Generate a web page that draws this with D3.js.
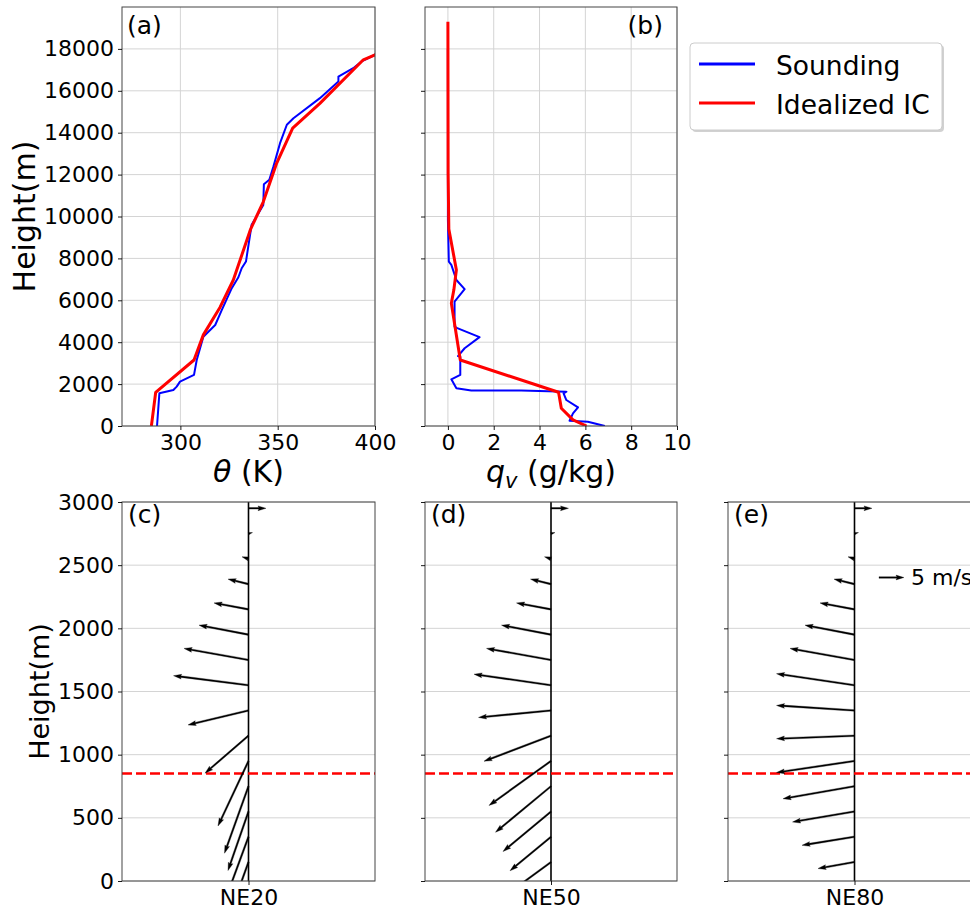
<!DOCTYPE html>
<html>
<head>
<meta charset="utf-8">
<script src="https://cdn.jsdelivr.net/npm/d3@7"></script>
<style>
  body { margin: 0; background: #fff; }
  text { font-family: "DejaVu Sans", sans-serif; fill: #000; }
</style>
</head>
<body>
<svg id="fig" width="970" height="909"></svg>
<script>
// ---------- (a) potential temperature profiles ----------
const thetaSoundingZ = [0, 1560, 1720, 1880, 2120, 2440, 3150, 4260, 4820, 5540, 6580, 7100, 7530, 7850,
  9600, 10550, 11540, 11750, 12380, 13500, 14380, 14690, 15650, 16440, 16680, 17080, 17400, 17720];
const thetaSoundingK = [288.0, 289.2, 296.4, 298.1, 299.8, 307.0, 308.4, 311.8, 317.9, 321.3, 326.4, 329.8, 331.5, 333.7,
  336.6, 342.6, 342.9, 345.7, 347.8, 351.2, 354.7, 358.1, 371.7, 381.2, 381.2, 388.8, 393.1, 400.0];
const thetaIdealZ = [0, 1600, 3150, 4350, 5670, 6970, 9400, 10700, 12550, 14220, 15400, 17480, 17720, 18000];
const thetaIdealK = [285.1, 287.3, 307.0, 311.8, 320.4, 327.2, 336.1, 342.6, 349.5, 357.7, 371.7, 394.0, 400.0, 404.0];

// ---------- (b) water vapour mixing ratio profiles ----------
const qvSoundingZ = [0, 200, 250, 600, 890, 1240, 1560, 1640, 1690, 1690, 1800, 2230, 2440, 3310, 3340, 3710, 4240,
  4670, 4740, 5940, 6530, 6970, 7690, 7850, 9840, 18000];
const qvSoundingG = [6.85, 6.11, 5.31, 5.46, 5.68, 5.17, 5.05, 5.17, 3.2, 1.02, 0.37, 0.15, 0.54, 0.54, 0.44, 0.73, 1.38,
  0.41, 0.29, 0.29, 0.73, 0.37, 0.15, 0.04, 0.0, 0.0];
const qvIdealZ = [0, 290, 850, 1610, 3150, 5860, 6500, 7450, 9400, 12000, 19300];
const qvIdealG = [6.05, 5.46, 4.95, 4.83, 0.54, 0.15, 0.26, 0.37, 0.04, 0.01, 0.0];

// ---------- (c)-(e) low-level wind profiles ----------
const windHeights = [150, 350, 550, 750, 950, 1150, 1350, 1550, 1750, 1950, 2150, 2350, 2550, 2750, 2950];
const uNE20 = [-4.5, -5.0, -4.1, -4.8, -6.1, -8.7, -12.1, -15.0, -12.9, -9.9, -6.9, -4.1, -1.3, 0.8, 3.5];
const vNE20 = [-12.5, -13.6, -11.8, -13.4, -13.0, -7.5, -2.9, 1.9, 2.3, 1.9, 1.3, 1.0, 0.4, 0.2, 0.0];
const uNE50 = [-7.5, -8.2, -9.6, -11.1, -12.4, -13.4, -14.5, -15.4, -12.9, -9.9, -6.9, -4.1, -1.3, 0.8, 3.5];
const vNE50 = [-5.5, -6.8, -8.0, -9.2, -8.9, -5.1, -1.4, 2.2, 2.3, 1.9, 1.3, 1.0, 0.4, 0.2, 0.0];
const uNE80 = [-7.3, -10.5, -12.4, -14.3, -15.6, -15.6, -15.6, -15.6, -12.9, -9.9, -6.9, -4.1, -1.3, 0.8, 3.5];
const vNE80 = [-1.3, -1.7, -2.1, -2.5, -2.3, -0.6, 1.0, 2.3, 2.3, 1.9, 1.3, 1.0, 0.4, 0.2, 0.0];
const windCases = ["NE20", "NE50", "NE80"];
const windPanelLabels = ["(c)", "(d)", "(e)"];
const boundaryLayerTop = 850;   // m, dashed reference height
const keySpeed = 5;             // m/s, quiver key

// axis ticks
const profileHeightTicks = d3.range(0, 18001, 2000);
const thetaTicks = [300, 350, 400];
const qvTicks = [0, 2, 4, 6, 8, 10];
const windHeightTicks = d3.range(0, 3001, 500);

const svg = d3.select("#fig");
const FS_TICK = 22, FS_LABEL = 30, FS_LABEL_LOW = 27, FS_PANEL = 25, FS_LEG = 26.5;
const BLUE = "#0000ff", RED = "#ff0000", GRID = "#d4d4d4", FRAME = "#444";

// panel boxes
const topRow = { y0: 7, y1: 426 };
const botRow = { y0: 502, y1: 881 };
const colA = { x0: 122, x1: 375 }, colB = { x0: 425, x1: 677 }, colC = { x0: 728, x1: 981 };

let clipId = 0;
function panel(box, rows) {
  const g = svg.append("g");
  const id = "clip" + (clipId++);
  svg.append("defs").append("clipPath").attr("id", id)
    .append("rect").attr("x", box.x0).attr("y", rows.y0)
    .attr("width", box.x1 - box.x0).attr("height", rows.y1 - rows.y0);
  return { g, clip: "url(#" + id + ")" };
}
function frame(g, box, rows) {
  g.append("rect").attr("x", box.x0).attr("y", rows.y0)
    .attr("width", box.x1 - box.x0).attr("height", rows.y1 - rows.y0)
    .attr("fill", "none").attr("stroke", FRAME).attr("stroke-width", 1);
}
function styleAxis(sel) {
  sel.select(".domain").remove();
  sel.selectAll(".tick line").attr("stroke", "#000").attr("stroke-width", 0.9);
  sel.selectAll(".tick text").style("font-size", FS_TICK + "px").attr("fill", "#000")
    .style("font-family", "'DejaVu Sans', sans-serif");
}
function hGrid(g, y, ticks, box) {
  g.append("g").selectAll("line").data(ticks).join("line")
    .attr("x1", box.x0).attr("x2", box.x1).attr("y1", d => y(d)).attr("y2", d => y(d))
    .attr("stroke", GRID).attr("stroke-width", 1);
}
function vGrid(g, x, ticks, rows) {
  g.append("g").selectAll("line").data(ticks).join("line")
    .attr("x1", d => x(d)).attr("x2", d => x(d)).attr("y1", rows.y0).attr("y2", rows.y1)
    .attr("stroke", GRID).attr("stroke-width", 1);
}

// ---------- profile panels ----------
const yProf = d3.scaleLinear().domain([0, 20000]).range([topRow.y1, topRow.y0]);

function profilePanel(box, xDomain, xTicks, series, showYLabels) {
  const { g, clip } = panel(box, topRow);
  const x = d3.scaleLinear().domain(xDomain).range([box.x0, box.x1]);
  hGrid(g, yProf, profileHeightTicks, box);
  vGrid(g, x, xTicks, topRow);
  series.forEach(s => {
    const pts = s.z.map((z, i) => [s.v[i], z]);
    g.append("path").datum(pts).attr("clip-path", clip)
      .attr("d", d3.line().x(d => x(d[0])).y(d => yProf(d[1])))
      .attr("fill", "none").attr("stroke", s.color).attr("stroke-width", s.width)
      .attr("stroke-linejoin", "round");
  });
  frame(g, box, topRow);
  const ax = g.append("g").attr("transform", `translate(0,${topRow.y1})`)
    .call(d3.axisBottom(x).tickValues(xTicks).tickSize(4).tickPadding(4).tickFormat(d3.format("d")));
  styleAxis(ax);
  const ay = g.append("g").attr("transform", `translate(${box.x0},0)`)
    .call(d3.axisLeft(yProf).tickValues(profileHeightTicks).tickSize(4).tickPadding(4)
      .tickFormat(showYLabels ? d3.format("d") : () => ""));
  styleAxis(ay);
  return { g, x };
}

profilePanel(colA, [270, 400], thetaTicks, [
  { z: thetaSoundingZ, v: thetaSoundingK, color: BLUE, width: 2 },
  { z: thetaIdealZ, v: thetaIdealK, color: RED, width: 3 }
], true);
profilePanel(colB, [-1, 10], qvTicks, [
  { z: qvSoundingZ, v: qvSoundingG, color: BLUE, width: 2 },
  { z: qvIdealZ, v: qvIdealG, color: RED, width: 3 }
], false);

svg.append("text").attr("x", 127).attr("y", 34).style("font-size", FS_PANEL + "px").text("(a)");
svg.append("text").attr("x", 663).attr("y", 34).attr("text-anchor", "end").style("font-size", FS_PANEL + "px").text("(b)");

// axis titles
const thetaLab = svg.append("text").attr("x", (colA.x0 + colA.x1) / 2).attr("y", 482)
  .attr("text-anchor", "middle").style("font-size", FS_LABEL + "px");
thetaLab.append("tspan").attr("font-style", "italic").text("θ");
thetaLab.append("tspan").text(" (K)");

const qvLab = svg.append("text").attr("x", (colB.x0 + colB.x1) / 2).attr("y", 482)
  .attr("text-anchor", "middle").style("font-size", FS_LABEL + "px");
qvLab.append("tspan").attr("font-style", "italic").text("q");
qvLab.append("tspan").attr("font-style", "italic").attr("dy", 6).style("font-size", "21px").text("v");
qvLab.append("tspan").attr("dy", -6).text(" (g/kg)");

svg.append("text").attr("transform", `translate(35,${(topRow.y0 + topRow.y1) / 2}) rotate(-90)`)
  .attr("text-anchor", "middle").style("font-size", FS_LABEL + "px").text("Height(m)");
svg.append("text").attr("transform", `translate(49,${(botRow.y0 + botRow.y1) / 2}) rotate(-90)`)
  .attr("text-anchor", "middle").style("font-size", FS_LABEL_LOW + "px").text("Height(m)");

// legend
const leg = svg.append("g");
leg.append("rect").attr("x", 692).attr("y", 45).attr("width", 252).attr("height", 87).attr("rx", 4)
  .attr("fill", "#000").attr("opacity", 0.18);
leg.append("rect").attr("x", 690).attr("y", 43).attr("width", 252).attr("height", 87).attr("rx", 4)
  .attr("fill", "#fff").attr("stroke", "#cccccc").attr("stroke-width", 1);
[[BLUE, "Sounding", 64, 75], [RED, "Idealized IC", 103, 114]].forEach(([c, t, ly, ty]) => {
  leg.append("line").attr("x1", 699).attr("x2", 755).attr("y1", ly).attr("y2", ly)
    .attr("stroke", c).attr("stroke-width", 3);
  leg.append("text").attr("x", 776).attr("y", ty).style("font-size", FS_LEG + "px").text(t);
});

// ---------- wind profile (quiver) panels ----------
const yWind = d3.scaleLinear().domain([0, 3000]).range([botRow.y1, botRow.y0]);
const pxPerMs = 5;       // arrow length per m/s
const shaftW = 1.6;

function arrowPath(L) {
  const w = shaftW, hl = 5 * w, hal = 4.5 * w, hw = 3 * w;
  let pts = [[0, -w / 2], [L - hal, -w / 2], [L - hl, -hw / 2], [L, 0], [L - hl, hw / 2], [L - hal, w / 2], [0, w / 2]];
  if (L < hl) {
    const s = L / hl;
    pts = [[0, -w / 2], [hl - hal, -w / 2], [0, -hw / 2], [hl, 0], [0, hw / 2], [hl - hal, w / 2], [0, w / 2]]
      .map(p => [p[0] * s, p[1] * s]);
  }
  return "M" + pts.map(p => p.join(",")).join("L") + "Z";
}
function drawArrow(g, bx, by, u, v) {
  const dx = u * pxPerMs, dy = -v * pxPerMs;
  const L = Math.hypot(dx, dy);
  const ang = Math.atan2(dy, dx) * 180 / Math.PI;
  g.append("path").attr("d", arrowPath(L))
    .attr("transform", `translate(${bx},${by}) rotate(${ang})`)
    .attr("fill", "#000").attr("stroke", "#000").attr("stroke-width", 0.3);
}

const windU = [uNE20, uNE50, uNE80];
const windV = [vNE20, vNE50, vNE80];
[colA, colB, colC].forEach((box, k) => {
  const { g, clip } = panel(box, botRow);
  const x = d3.scaleLinear().domain([-1, 1]).range([box.x0, box.x1]);
  hGrid(g, yWind, windHeightTicks, box);
  const inner = g.append("g").attr("clip-path", clip);
  inner.append("line").attr("x1", x(0)).attr("x2", x(0)).attr("y1", botRow.y0).attr("y2", botRow.y1)
    .attr("stroke", "#000").attr("stroke-width", 1.6);
  inner.append("line").attr("x1", box.x0).attr("x2", box.x1)
    .attr("y1", yWind(boundaryLayerTop)).attr("y2", yWind(boundaryLayerTop))
    .attr("stroke", RED).attr("stroke-width", 2.5).attr("stroke-dasharray", "10,4");
  windHeights.forEach((h, i) => drawArrow(inner, x(0), yWind(h), windU[k][i], windV[k][i]));
  frame(g, box, botRow);
  const ax = g.append("g").attr("transform", `translate(0,${botRow.y1})`)
    .call(d3.axisBottom(x).tickValues([0]).tickSize(4).tickPadding(4).tickFormat(() => windCases[k]));
  styleAxis(ax);
  const ay = g.append("g").attr("transform", `translate(${box.x0},0)`)
    .call(d3.axisLeft(yWind).tickValues(windHeightTicks).tickSize(4).tickPadding(4)
      .tickFormat(k === 0 ? d3.format("d") : () => ""));
  styleAxis(ay);
  svg.append("text").attr("x", box.x0 + 6).attr("y", 523).style("font-size", FS_PANEL + "px").text(windPanelLabels[k]);
  if (k === 2) {
    drawArrow(g, 879, 577.5, keySpeed, 0);
    svg.append("text").attr("x", 911).attr("y", 585).style("font-size", FS_TICK + "px").text(keySpeed + " m/s");
  }
});
</script>
</body>
</html>
